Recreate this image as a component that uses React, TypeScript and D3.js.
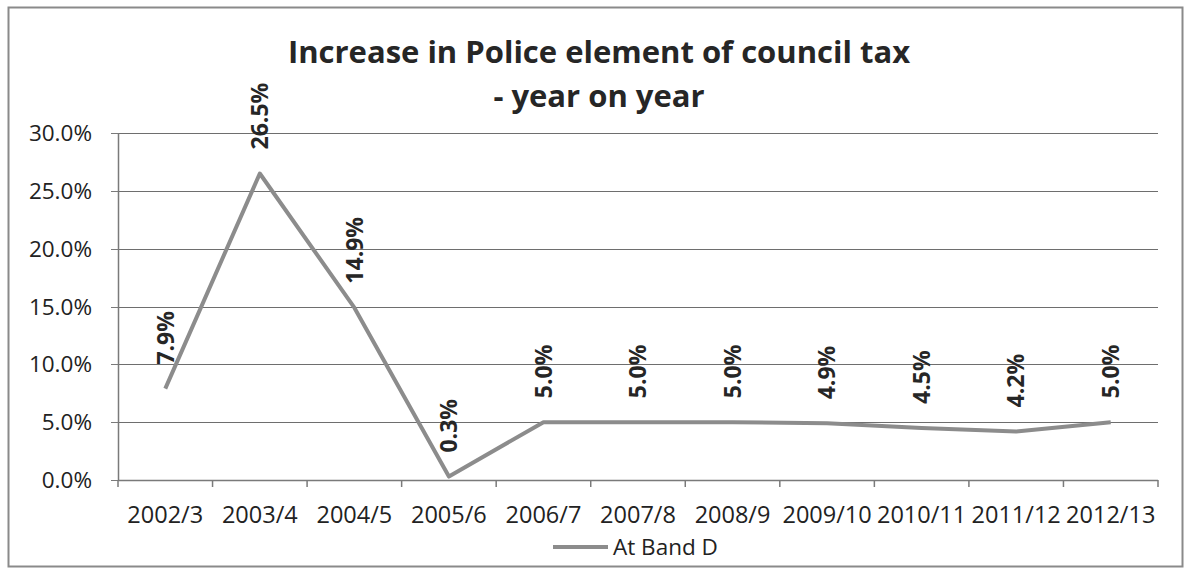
import React from "react";
import * as d3 from "d3";

const categories = ["2002/3", "2003/4", "2004/5", "2005/6", "2006/7", "2007/8", "2008/9", "2009/10", "2010/11", "2011/12", "2012/13"];
const values = [7.9, 26.5, 14.9, 0.3, 5.0, 5.0, 5.0, 4.9, 4.5, 4.2, 5.0];
const yTicks = [0, 5, 10, 15, 20, 25, 30];
const titleLines = ["Increase in Police element of council tax", "- year on year"];
const seriesName = "At Band D";

const W = 1186, H = 568;
const left = 118, right = 1158, top = 133, bottom = 480;
const FONT = "'Open Sans', Lato, sans-serif";

export default function App() {
  const x = d3.scaleBand().domain(categories).range([left, right]).padding(0);
  const y = d3.scaleLinear().domain([0, 30]).range([bottom, top]);
  const line = d3.line<number>()
    .x((_, i) => (x(categories[i]) as number) + x.bandwidth() / 2)
    .y((d) => y(d));
  const boundaries = d3.range(categories.length + 1).map((i) => left + i * x.bandwidth());

  return (
    <svg width={W} height={H} style={{ position: "absolute", left: 0, top: 0, background: "#fff" }}>
      <rect x={0} y={0} width={W} height={H} fill="#fff" />
      <rect x={8.5} y={7.5} width={1174} height={559} fill="none" stroke="#8a8a8a" strokeWidth={2} />
      {titleLines.map((t, i) => (
        <text key={i} x={599} y={63 + i * 44} textAnchor="middle" fontFamily={FONT} fontWeight={700} fontSize={31} fill="#262626">{t}</text>
      ))}
      {yTicks.filter((t) => t > 0).map((t) => (
        <line key={t} x1={left} x2={right} y1={Math.round(y(t)) + 0.5} y2={Math.round(y(t)) + 0.5} stroke="#6e6e6e" strokeWidth={1} />
      ))}
      {yTicks.map((t) => (
        <g key={"yt" + t}>
          <line x1={left - 7} x2={left} y1={Math.round(y(t)) + 0.5} y2={Math.round(y(t)) + 0.5} stroke="#7a7a7a" strokeWidth={1} />
          <text x={92} y={y(t)} dy="0.36em" textAnchor="end" fontFamily={FONT} fontSize={22.5} fill="#222">{t.toFixed(1)}%</text>
        </g>
      ))}
      <line x1={left + 0.5} x2={left + 0.5} y1={top} y2={bottom} stroke="#7a7a7a" strokeWidth={1.5} />
      <line x1={left} x2={right} y1={bottom + 0.5} y2={bottom + 0.5} stroke="#7a7a7a" strokeWidth={1.5} />
      {boundaries.map((b, i) => (
        <line key={"xt" + i} x1={b} x2={b} y1={bottom} y2={bottom + 7} stroke="#7a7a7a" strokeWidth={1.5} />
      ))}
      {categories.map((c) => (
        <text key={c} x={(x(c) as number) + x.bandwidth() / 2} y={515} dy="0.36em" textAnchor="middle" fontFamily={FONT} fontSize={23.5} fill="#222">{c}</text>
      ))}
      <path d={line(values) || ""} fill="none" stroke="#8c8c8c" strokeWidth={4} strokeLinejoin="round" />
      {values.map((v, i) => {
        const cx = (x(categories[i]) as number) + x.bandwidth() / 2;
        const cy = y(v) - 24;
        return (
          <text key={"dl" + i} transform={`translate(${cx},${cy}) rotate(-90)`} dy="0.36em" textAnchor="start" fontFamily={FONT} fontWeight={700} fontSize={23} fill="#262626">{v.toFixed(1)}%</text>
        );
      })}
      <line x1={553} x2={608} y1={547} y2={547} stroke="#8c8c8c" strokeWidth={4} />
      <text x={613} y={547} dy="0.36em" fontFamily={FONT} fontSize={22.5} fill="#222">{seriesName}</text>
    </svg>
  );
}
